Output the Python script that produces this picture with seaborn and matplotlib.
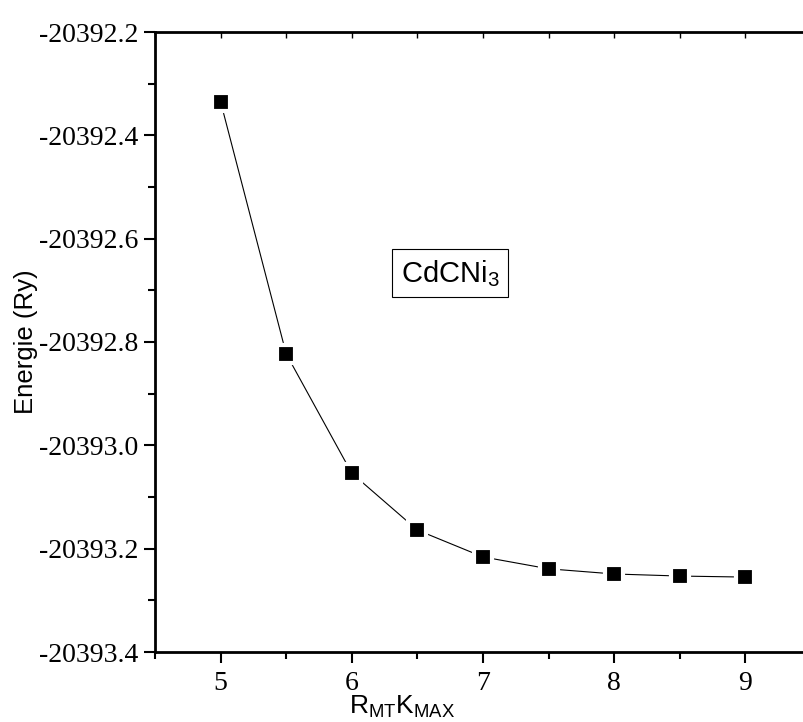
import numpy as np
import pandas as pd
import matplotlib
matplotlib.use("Agg")
import matplotlib.pyplot as plt
import seaborn as sns
from matplotlib.ticker import MultipleLocator, FixedLocator

# Data
rmt_kmax = [5.0, 5.5, 6.0, 6.5, 7.0, 7.5, 8.0, 8.5, 9.0]
energy = [-20392.335, -20392.823, -20393.054, -20393.164, -20393.216,
          -20393.239, -20393.249, -20393.253, -20393.255]
x_ticks = [5, 6, 7, 8, 9]
x_ticklabels = ["5", "6", "7", "8", "9"]
y_ticks = [-20393.4, -20393.2, -20393.0, -20392.8, -20392.6, -20392.4, -20392.2]
y_ticklabels = ["-20393.4", "-20393.2", "-20393.0", "-20392.8", "-20392.6", "-20392.4", "-20392.2"]

df = pd.DataFrame({"x": rmt_kmax, "y": energy})

sns.set_theme(style="white")
plt.rcParams["mathtext.default"] = "regular"
plt.rcParams["axes.unicode_minus"] = False

fig = plt.figure(figsize=(8.04, 7.22), dpi=100)
ax = fig.add_axes([155 / 804, 70 / 722, 656 / 804, 620 / 722])

sns.lineplot(data=df, x="x", y="y", ax=ax, color="black", linewidth=0.8,
             marker="s", markersize=12.4, markerfacecolor="black",
             markeredgecolor="white", markeredgewidth=3.0)

ax.set_xlim(4.5, 9.5)
ax.set_ylim(-20393.4, -20392.2)

ax.xaxis.set_major_locator(FixedLocator(x_ticks))
ax.set_xticklabels(x_ticklabels)
ax.xaxis.set_minor_locator(MultipleLocator(0.5))
ax.yaxis.set_major_locator(FixedLocator(y_ticks))
ax.set_yticklabels(y_ticklabels)
ax.yaxis.set_minor_locator(MultipleLocator(0.1))

for lab in ax.get_xticklabels() + ax.get_yticklabels():
    lab.set_family("Liberation Serif")
    lab.set_fontsize(20)
    lab.set_color("black")

ax.tick_params(which="major", direction="out", length=8, width=1.5, color="black",
               bottom=True, left=True, top=False, right=False, pad=4)
ax.tick_params(axis="x", which="major", pad=6)
ax.tick_params(which="minor", direction="out", length=5, width=1.5, color="black",
               bottom=True, left=True, top=False, right=False)

sec = ax.secondary_xaxis("top")
sec.xaxis.set_major_locator(MultipleLocator(0.5))
sec.tick_params(direction="in", length=4, width=1.0, color="black", labeltop=False)
sec.spines["top"].set_visible(False)

for s in ["left", "bottom", "top", "right"]:
    ax.spines[s].set_visible(True)
    ax.spines[s].set_color("black")
    ax.spines[s].set_linewidth(2.0)

ax.set_xlabel(r"R$_{MT}$K$_{MAX}$", family="Liberation Sans", fontsize=19, color="black")
ax.xaxis.set_label_coords(0.377, -0.068)
ax.set_ylabel("Energie (Ry)", family="Liberation Sans", fontsize=18.5, color="black")
ax.yaxis.set_label_coords(-0.178, 0.5)

ax.text(0.45, 0.611, r"CdCNi$_3$", transform=ax.transAxes, ha="center", va="center",
        family="Liberation Sans", fontsize=21, color="black",
        bbox=dict(boxstyle="square,pad=0.3", facecolor="white", edgecolor="black", linewidth=0.8))

fig.savefig("out.png", dpi=100)
